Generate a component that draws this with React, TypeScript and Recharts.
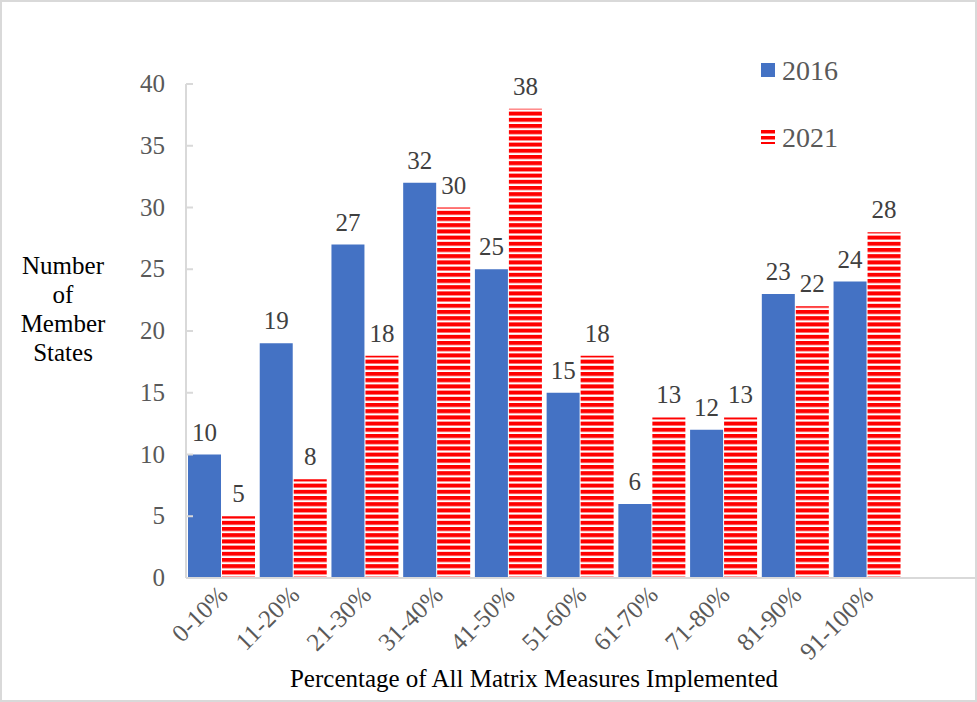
import { BarChart, Bar, XAxis, YAxis, LabelList } from "recharts";

const categories = ["0-10%", "11-20%", "21-30%", "31-40%", "41-50%", "51-60%", "61-70%", "71-80%", "81-90%", "91-100%", ""];
const states2016 = [10, 19, 27, 32, 25, 15, 6, 12, 23, 24, null];
const states2021 = [5, 8, 18, 30, 38, 18, 13, 13, 22, 28, null];
const yTicks = [0, 5, 10, 15, 20, 25, 30, 35, 40];
const seriesNames = ["2016", "2021"];

const data = categories.map((c, i) => ({ cat: c, y2016: states2016[i], y2021: states2021[i] }));

const FONT = '"Liberation Serif", "Times New Roman", serif';
const BLUE = "#4472C4";
const RED = "#FF0000";
const AXIS = "#D9D9D9";

// tick label plus a short inward tick mark
function YTick({ x, y, payload }: any) {
  const axisX = x + 22;
  return (
    <g>
      <line x1={axisX} x2={axisX + 7} y1={y} y2={y} stroke={AXIS} strokeWidth={2} />
      <text x={x + 1} y={y} dy={8} textAnchor="end" fontFamily={FONT} fontSize={25} fill="#595959">
        {payload.value}
      </text>
    </g>
  );
}

function XTick({ x, y, payload }: any) {
  if (!payload.value) return null;
  const ax = x + 1;
  const ay = y + 4;
  return (
    <text
      x={ax}
      y={ay}
      textAnchor="end"
      transform={`rotate(-45, ${ax}, ${ay})`}
      dy={9}
      fontFamily={FONT}
      fontSize={25}
      fill="#595959"
    >
      {payload.value}
    </text>
  );
}

function YTitle() {
  const lines = ["Number", "of", "Member", "States"];
  return (
    <text x={63} y={266} textAnchor="middle" fontFamily={FONT} fontSize={25} fill="#000">
      {lines.map((l, i) => (
        <tspan key={l} x={63} y={266 + i * 29} dy={8}>
          {l}
        </tspan>
      ))}
    </text>
  );
}

function XTitle() {
  return (
    <text x={534} y={679} dy={8} textAnchor="middle" fontFamily={FONT} fontSize={25} fill="#000">
      Percentage of All Matrix Measures Implemented
    </text>
  );
}

function LegendBox() {
  return (
    <div style={{ position: "absolute", left: 761, top: 37, fontFamily: FONT, fontSize: 28, color: "#595959" }}>
      {seriesNames.map((name, i) => (
        <div key={name} style={{ display: "flex", alignItems: "center", height: 67 }}>
          <svg width={14} height={15} style={{ marginRight: 7 }}>
            <defs>
              <pattern id={"lg" + name} patternUnits="userSpaceOnUse" width={14} height={6}>
                <rect width={14} height={3.5} fill={RED} />
              </pattern>
            </defs>
            <rect width={14} height={14} fill={i === 0 ? BLUE : `url(#lg${name})`} />
          </svg>
          {name}
        </div>
      ))}
    </div>
  );
}

export default function App() {
  return (
    <div style={{ position: "absolute", left: 0, top: 0, width: 977, height: 702, background: "#fff" }}>
      <div style={{ position: "absolute", inset: 0, border: `2px solid ${AXIS}`, boxSizing: "border-box" }} />
      <BarChart
        width={977}
        height={702}
        data={data}
        margin={{ top: 84, right: 2, left: 0, bottom: 0 }}
        barCategoryGap={2}
        barGap={1}
      >
        <defs>
          <pattern id="stripes" patternUnits="userSpaceOnUse" width={8} height={6.2}>
            <rect width={8} height={6.2} fill="#fff" />
            <rect width={8} height={4} fill={RED} />
          </pattern>
        </defs>
        <XAxis
          dataKey="cat"
          stroke={AXIS}
          strokeWidth={2}
          tickLine={false}
          interval={0}
          height={124}
          tick={<XTick />}
          label={<XTitle />}
        />
        <YAxis
          domain={[0, 40]}
          ticks={yTicks}
          width={186}
          stroke={AXIS}
          strokeWidth={2}
          tickLine={false}
          tickSize={8}
          tickMargin={14}
          tick={<YTick />}
          label={<YTitle />}
        />
        <Bar dataKey="y2016" fill={BLUE} isAnimationActive={false}>
          <LabelList dataKey="y2016" position="top" offset={14} fontFamily={FONT} fontSize={25} fill="#404040" />
        </Bar>
        <Bar dataKey="y2021" fill="url(#stripes)" isAnimationActive={false}>
          <LabelList dataKey="y2021" position="top" offset={14} fontFamily={FONT} fontSize={25} fill="#404040" />
        </Bar>
      </BarChart>
      <LegendBox />
    </div>
  );
}
